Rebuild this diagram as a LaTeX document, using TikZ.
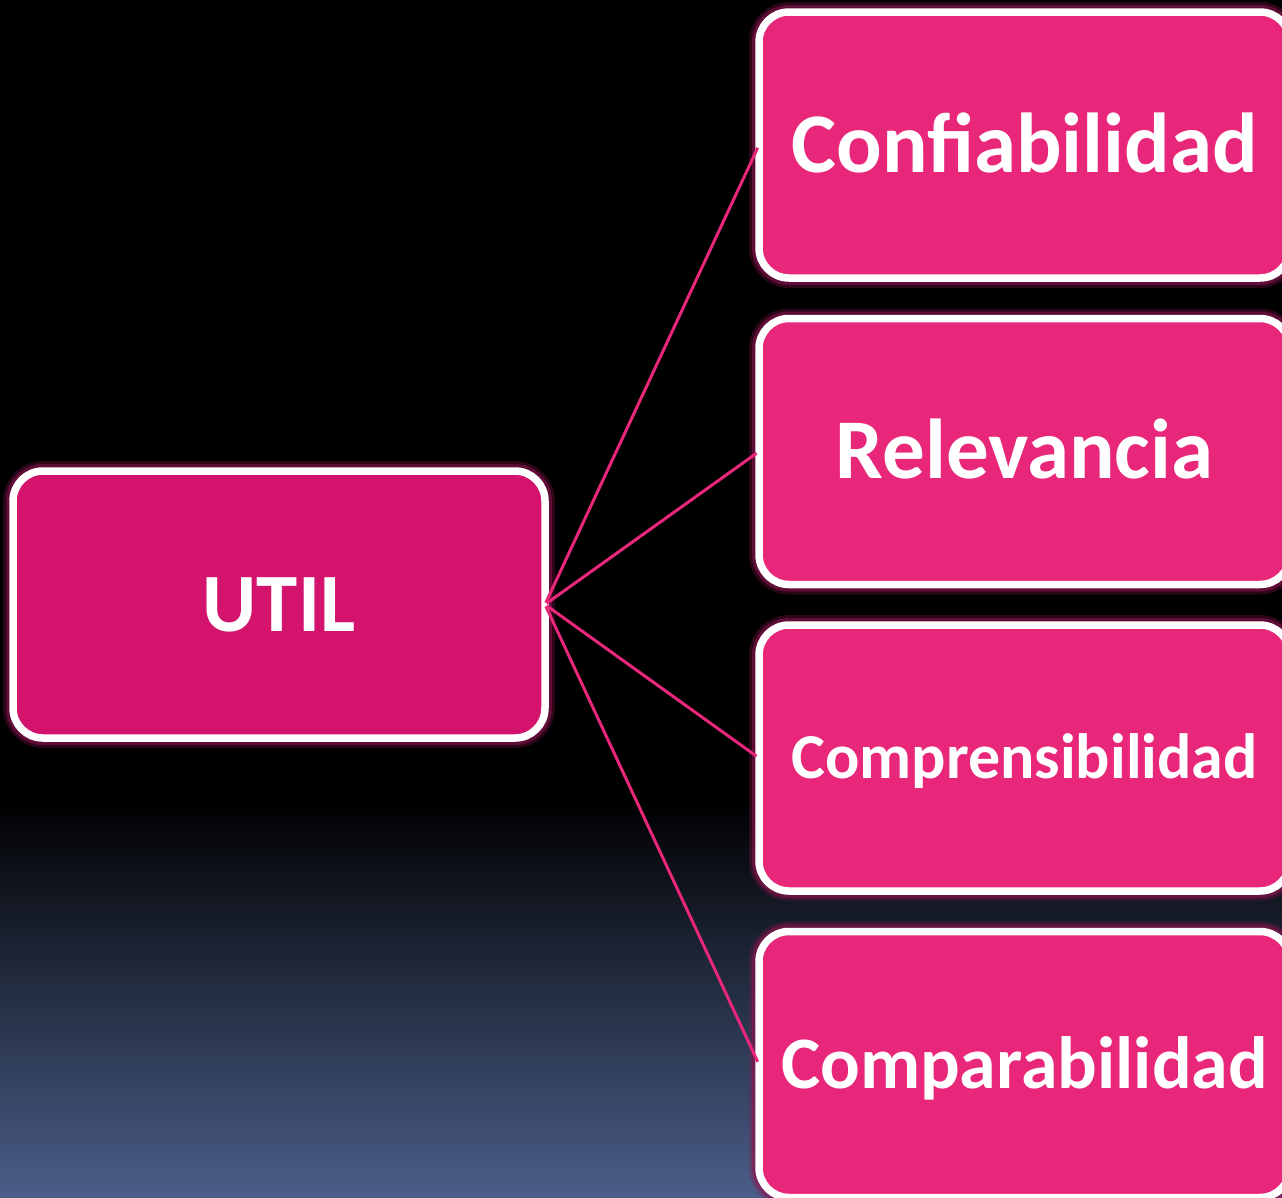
\documentclass[tikz,border=0pt]{standalone}
\usepackage{fontspec}
\setmainfont{Carlito}
\usetikzlibrary{positioning}
\definecolor{utilpink}{HTML}{D4146C}
\definecolor{boxpink}{HTML}{E8267A}
\definecolor{glowpink}{HTML}{8C1450}
\definecolor{bgblue}{HTML}{4A5E88}
\begin{document}
\begin{tikzpicture}[x=1pt, y=-1pt,
  glow/.style={preaction={draw=glowpink, line width=20pt, opacity=0.3},
               preaction={draw=glowpink, line width=14pt, opacity=0.55}},
  main/.style={draw=white, line width=7.5pt, rounded corners=30pt, fill=boxpink, text=white,
               inner sep=0pt, outer sep=0pt, minimum width=531pt, minimum height=266pt,
               text depth=0pt, glow},
  link/.style={draw=boxpink, line width=3pt, shorten <=2pt, shorten >=3pt}]
\useasboundingbox (0,0) rectangle (1282,1197);
\clip (0,0) rectangle (1282,1197);
% background
\fill[black] (0,0) rectangle (1282,800);
\shade[top color=black, bottom color=bgblue] (0,800) rectangle (1282,1197);
% boxes
\node[main, fill=utilpink, minimum width=532pt, minimum height=267pt, text height=53.5pt,
      font=\fontsize{83}{100}\selectfont\bfseries] (util) at (279,604.5) {UTIL};
\node[main, text height=54.7pt, font=\fontsize{85}{100}\selectfont\bfseries] (conf) at (1024.5,145) {Confiabilidad};
\node[main, text height=54.7pt, font=\fontsize{85}{100}\selectfont\bfseries] (rel) [below=40.5pt of conf] {Relevancia};
\node[main, text height=41.2pt, font=\fontsize{64}{80}\selectfont\bfseries] (comp) [below=40.5pt of rel] {Comprensibilidad};
\node[main, text height=47.7pt, font=\fontsize{74}{90}\selectfont\bfseries] (compa) [below=40.5pt of comp] {Comparabilidad};
% links
\draw[link] (util.east) -- (conf.west);
\draw[link] (util.east) -- (rel.west);
\draw[link] (util.east) -- (comp.west);
\draw[link] (util.east) -- (compa.west);
\end{tikzpicture}
\end{document}
